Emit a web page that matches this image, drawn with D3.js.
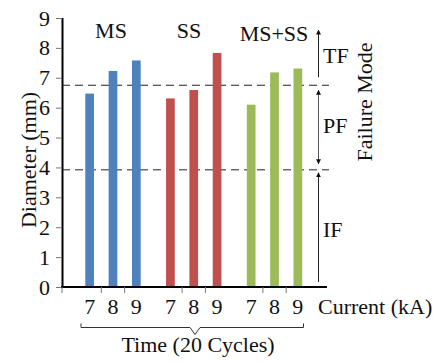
<!DOCTYPE html>
<html>
<head>
<meta charset="utf-8">
<script src="https://cdn.jsdelivr.net/npm/d3@7"></script>
<style>
  html, body { margin: 0; padding: 0; background: #fff; }
  svg { display: block; }
</style>
</head>
<body>
<svg id="chart" width="434" height="363"></svg>
<script>
// Spot diameters grouped by material stack, one bar per welding current
const groups = ["MS", "SS", "MS+SS"];
const currents = ["7", "8", "9"];
const msValues = [6.47, 7.23, 7.58];
const ssValues = [6.31, 6.59, 7.83];
const mixValues = [6.10, 7.18, 7.31];
const groupColors = ["#4F81BD", "#C0504D", "#9BBB59"];
const yTicks = [0, 1, 2, 3, 4, 5, 6, 7, 8, 9];
// Failure-mode thresholds (interfacial / partial / total)
const thresholds = [3.92, 6.75];
const modeLabels = ["IF", "PF", "TF"];

const SERIF = "'Liberation Serif', 'Times New Roman', 'DejaVu Serif', serif";
const FS = 22;

const series = [msValues, ssValues, mixValues];
const rows = [];
groups.forEach((g, gi) => currents.forEach((c, ci) => {
  rows.push({ group: g, current: c, value: series[gi][ci], color: groupColors[gi] });
}));

const svg = d3.select("#chart");
const plotLeft = 62, plotRight = 327, plotTop = 18, plotBottom = 287;

function label(sel) {
  return sel.style("font-family", SERIF).style("font-size", FS + "px").attr("fill", "#111");
}

const y = d3.scaleLinear().domain([0, 9]).range([plotBottom, plotTop]);

const x0 = d3.scaleBand().domain(groups)
  .range([72.6, 314.9]).paddingInner(0.133).paddingOuter(0.0665);
const x1 = d3.scaleBand().domain(currents)
  .range([0, x0.bandwidth()]).paddingInner(0.627).paddingOuter(0.3135);

// dashed threshold lines
svg.selectAll("line.thr").data(thresholds).enter().append("line")
  .attr("x1", plotLeft).attr("x2", 329)
  .attr("y1", d => y(d)).attr("y2", d => y(d))
  .attr("stroke", "#222").attr("stroke-width", 1)
  .attr("stroke-dasharray", "8,5");

// bars
svg.selectAll("rect.bar").data(rows).enter().append("rect")
  .attr("x", d => x0(d.group) + x1(d.current))
  .attr("width", x1.bandwidth())
  .attr("y", d => y(d.value))
  .attr("height", d => y(0) - y(d.value))
  .attr("fill", d => d.color);

// y axis
const yAxis = d3.axisLeft(y).tickValues(yTicks).tickSize(6).tickPadding(6);
const gy = svg.append("g").attr("transform", `translate(${plotLeft},0)`).call(yAxis);
gy.attr("font-family", null).attr("font-size", null);
gy.select(".domain").attr("stroke", "#000").attr("stroke-width", 2)
  .attr("d", `M0.5,${plotTop}V${plotBottom}`);
gy.selectAll(".tick line").attr("stroke", "#777");
label(gy.selectAll(".tick text"));

// x axis: baseline plus separator ticks inside each group
svg.append("line").attr("x1", plotLeft - 1).attr("x2", plotRight)
  .attr("y1", plotBottom).attr("y2", plotBottom)
  .attr("stroke", "#000").attr("stroke-width", 2);
const sepTicks = [plotLeft];
groups.forEach(g => {
  for (let i = 0; i < currents.length - 1; i++) {
    const a = x0(g) + x1(currents[i]) + x1.bandwidth() / 2;
    const b = x0(g) + x1(currents[i + 1]) + x1.bandwidth() / 2;
    sepTicks.push((a + b) / 2);
  }
});
svg.selectAll("line.sep").data(sepTicks).enter().append("line")
  .attr("x1", d => d).attr("x2", d => d)
  .attr("y1", plotBottom).attr("y2", plotBottom + 6)
  .attr("stroke", "#777").attr("stroke-width", 1);

// current labels under each bar
label(svg.selectAll("text.cur").data(rows).enter().append("text")
  .attr("x", d => x0(d.group) + x1(d.current) + x1.bandwidth() / 2)
  .attr("y", 314)
  .attr("text-anchor", "middle")
  .text(d => d.current));

label(svg.append("text").attr("x", 318).attr("y", 314).text("Current (kA)"));

// group labels
const groupLabelY = [37.5, 37.5, 40.5];
const groupLabelX = [111, 189, 274];
label(svg.selectAll("text.grp").data(groups).enter().append("text")
  .attr("x", (d, i) => groupLabelX[i])
  .attr("y", (d, i) => groupLabelY[i])
  .attr("text-anchor", "middle")
  .text(d => d));

// bracket under the categories
const bx0 = 81, bx1 = 303.5, bMid = 195, bY = 327.5;
svg.append("path")
  .attr("d", `M${bx0},${bY - 4}V${bY}H${bMid - 5}L${bMid},${bY + 7}L${bMid + 5},${bY}H${bx1}V${bY - 4}`)
  .attr("fill", "none").attr("stroke", "#333").attr("stroke-width", 1);
label(svg.append("text").attr("x", 198).attr("y", 352)
  .attr("text-anchor", "middle")
  .text("Time (20 Cycles)"));

// y axis title
label(svg.append("text")
  .attr("transform", "translate(36,160) rotate(-90)")
  .attr("text-anchor", "middle")
  .text("Diameter (mm)"));

// failure mode arrows
const defs = svg.append("defs");
defs.append("marker").attr("id", "ah").attr("viewBox", "0 0 10 10")
  .attr("refX", 9).attr("refY", 5).attr("markerWidth", 5).attr("markerHeight", 7)
  .attr("markerUnits", "userSpaceOnUse").attr("orient", "auto-start-reverse")
  .append("path").attr("d", "M0,0L10,5L0,10Z").attr("fill", "#111");

const ax = 318.5;
const spans = [
  { y1: y(0) - 5, y2: y(thresholds[0]) + 3, both: false, label: modeLabels[0], ly: 236.5 },
  { y1: y(thresholds[0]) - 6, y2: y(thresholds[1]) + 5, both: true, label: modeLabels[1], ly: 132.5 },
  { y1: y(thresholds[1]) - 8, y2: 30, both: false, label: modeLabels[2], ly: 62.5 }
];
spans.forEach(s => {
  const ln = svg.append("line").attr("x1", ax).attr("x2", ax)
    .attr("y1", s.y1).attr("y2", s.y2)
    .attr("stroke", s.both ? "#555" : "#222").attr("stroke-width", 1)
    .attr("marker-end", "url(#ah)");
  if (s.both) ln.attr("marker-start", "url(#ah)");
  label(svg.append("text").attr("x", 323).attr("y", s.ly).text(s.label));
});

label(svg.append("text")
  .attr("transform", "translate(372,102) rotate(-90)")
  .attr("text-anchor", "middle")
  .text("Failure Mode"));
</script>
</body>
</html>
